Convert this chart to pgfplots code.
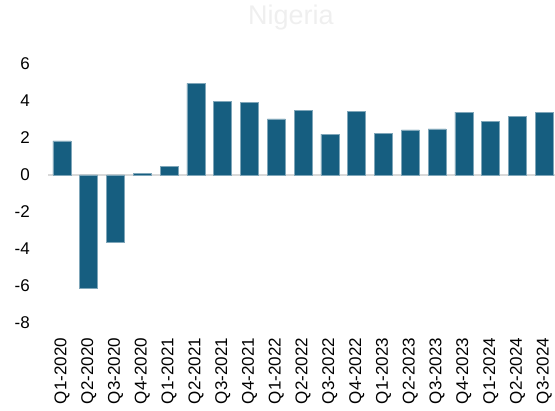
\documentclass[border=0pt]{standalone}
\usepackage{pgfplots}
\pgfplotsset{compat=1.18}
\usepackage{fontspec}
\setmainfont{Liberation Sans}
\definecolor{barblue}{HTML}{165E80}
\definecolor{zerogray}{HTML}{D9D9D9}
\definecolor{titlegray}{HTML}{EFEFEF}
\begin{document}
\begin{tikzpicture}
\path[use as bounding box] (0,0) rectangle (555bp,411bp);
\begin{axis}[
  at={(48bp,88.3bp)}, anchor=south west,
  scale only axis, width=507bp, height=258.7bp,
  xmin=-0.52, xmax=18.40, ymin=-8, ymax=6,
  axis line style={draw=none},
  tick style={draw=none},
  major tick length=0pt,
  ytick={-8,-6,...,6},
  xtick={0,...,18},
  xticklabels={Q1-2020,Q2-2020,Q3-2020,Q4-2020,Q1-2021,Q2-2021,Q3-2021,Q4-2021,Q1-2022,Q2-2022,Q3-2022,Q4-2022,Q1-2023,Q2-2023,Q3-2023,Q4-2023,Q1-2024,Q2-2024,Q3-2024},
  /pgf/number format/assume math mode=true,
  ticklabel style={font=\fontsize{17bp}{19bp}\selectfont},
  yticklabel style={inner sep=0pt},
  yticklabel shift=18bp,
  xticklabel style={rotate=90, anchor=east, inner sep=0pt},
  xticklabel shift=15bp,
  clip=false,
]
\addplot[zerogray, line width=1.5bp] coordinates {(-0.52,0) (18.4,0)};
\addplot[ybar, bar width=18bp, fill=barblue, draw=barblue!55!white, line width=0.6bp] coordinates {
(0,1.84) (1,-6.14) (2,-3.64) (3,0.08) (4,0.47) (5,4.95) (6,3.98) (7,3.93) (8,3.03) (9,3.50)
(10,2.20) (11,3.45) (12,2.25) (13,2.43) (14,2.49) (15,3.39) (16,2.90) (17,3.15) (18,3.39)};
\end{axis}
\node[titlegray, font=\fontsize{27bp}{29bp}\selectfont] at (290.8bp,393bp) {Nigeria};
\end{tikzpicture}
\end{document}
